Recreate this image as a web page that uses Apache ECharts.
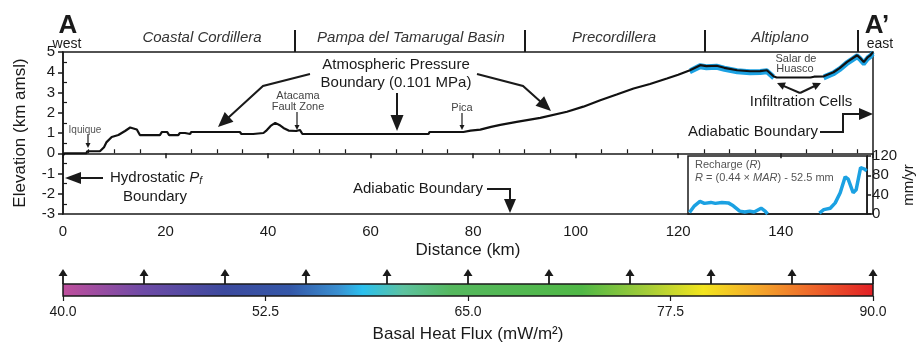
<!DOCTYPE html>
<html><head><meta charset="utf-8">
<script src="https://cdn.jsdelivr.net/npm/echarts@6/dist/echarts.min.js"></script>
<style>html,body{margin:0;padding:0;background:#fff}#c{width:917px;height:345px}</style>
</head><body><div id="c"></div>
<script>
// ---------- DATA ----------
var topoKm = [0,0.3,4.6,4.7,7.2,8.0,8.5,9.5,10.8,12.1,13.1,14.4,15.0,18.9,19.3,20.3,20.7,22.5,22.8,23.8,24.1,24.8,25.0,34.5,34.8,37.1,37.4,39.1,39.6,40.5,41.4,42.2,43.0,44.0,45.5,46.2,46.7,71.3,71.5,78.1,79.5,81.4,83.5,85.3,88.5,93.1,98.3,101.5,104.8,108,111.3,114.5,117.8,120,122.3,124.3,125.5,127.5,129,131.5,134,136,137.3,138.6,139.2,145.8,146.5,148.4,150.3,151.5,152.9,154.9,155.5,156.2,157.0,157.5,158];
var topoElev = [-0.1,0,0,0.1,0.1,0.3,0.55,0.8,0.9,1.1,1.27,1.17,0.9,0.9,1.05,1.05,0.9,0.9,1.0,1.0,0.95,0.95,1.05,1.05,0.95,0.95,1.0,1.0,1.1,1.35,1.5,1.4,1.25,1.12,1.1,1.15,0.95,0.95,1.05,1.05,1.12,1.17,1.3,1.4,1.55,1.75,2.05,2.3,2.62,2.9,3.2,3.42,3.69,3.88,4.1,4.35,4.3,4.32,4.22,4.1,4.05,4.06,4.1,3.8,3.74,3.74,3.78,3.8,4.0,4.2,4.5,4.84,4.7,4.5,4.75,4.84,5.0];
var infiltrationZones = [[121,138.8],[147,158]];

var rechargeKm1 = [122.3,123.3,124.4,125.3,126.6,127.5,128.8,130.1,131.1,132.4,133.4,134.4,135.3,136.7,137.5,138];
var rechargeVal1 = [3,17,26,22,24,22,24,23,17,6,4,6,4,12,6,0];
var rechargeKm2 = [148.4,149.3,150.6,151.6,152.6,153.6,154.2,155.2,155.8,156.7,157.5,157.9];
var rechargeVal2 = [2,9,12,23,44,77,72,44,50,96,93,89];

var heatFluxRange = [40, 90];
var heatFluxArrows = [40,45,50,55,60,65,70,75,80,85,90];

var regionNames = ['Coastal Cordillera','Pampa del Tamarugal Basin','Precordillera','Altiplano'];

// ---------- STYLE ----------
var FONT = '"Liberation Sans", Arial, Helvetica, sans-serif';
var INK = '#1a1a1a';
var BLUE = '#1ba1e2';
var gradStops = [
  {offset:0, color:'#c04f9d'},{offset:0.1, color:'#6e4ba6'},{offset:0.2, color:'#3c4a9e'},
  {offset:0.28, color:'#3457a8'},{offset:0.34, color:'#3a8fd0'},{offset:0.37, color:'#2bc0ee'},
  {offset:0.42, color:'#5dc2a0'},{offset:0.48, color:'#55b85e'},{offset:0.64, color:'#50b846'},
  {offset:0.72, color:'#a3cc38'},{offset:0.79, color:'#f3e51e'},{offset:0.86, color:'#f4a52a'},
  {offset:0.92, color:'#ee6a2a'},{offset:1, color:'#e21f26'}
];

function pairs(a,b){ return a.map(function(v,i){ return [v,b[i]]; }); }
var topoData = pairs(topoKm, topoElev);
var blueSeries = infiltrationZones.map(function(z){
  return {type:'line', xAxisIndex:0, yAxisIndex:0, symbol:'none', silent:true, z:2,
    data: topoData.filter(function(p){ return p[0]>=z[0] && p[0]<=z[1]; }),
    lineStyle:{color:BLUE, width:4, shadowColor:BLUE, shadowBlur:0, shadowOffsetY:2}};
});

function txt(x,y,s,o){
  var st = {text:s, fill:INK, font:'15px '+FONT, align:'center', verticalAlign:'middle', textAlign:'center', textVerticalAlign:'middle'};
  for (var k in (o||{})) st[k]=o[k];
  return {type:'text', x:x, y:y, z:100, style:st};
}
function arrow(pts, hl, hw, lw){
  var n=pts.length, a=pts[n-2], b=pts[n-1];
  var dx=b[0]-a[0], dy=b[1]-a[1], L=Math.sqrt(dx*dx+dy*dy), ux=dx/L, uy=dy/L;
  var bx=b[0]-ux*hl*0.8, by=b[1]-uy*hl*0.8;
  var hx=b[0]-ux*hl, hy=b[1]-uy*hl;
  var line = pts.slice(0,n-1).concat([[bx,by]]);
  return [
    {type:'polyline', z:100, shape:{points:line}, style:{stroke:INK, lineWidth:lw||2, fill:null}},
    {type:'polygon', z:100, shape:{points:[[b[0],b[1]],[hx-uy*hw/2, hy+ux*hw/2],[hx+uy*hw/2, hy-ux*hw/2]]}, style:{fill:INK}}
  ];
}
function line(pts, lw){ return {type:'polyline', z:100, shape:{points:pts}, style:{stroke:INK, lineWidth:lw||2, fill:null}}; }

var small = {font:'11px '+FONT, fill:'#444'};
var graphics = [
  txt(68,26,'A',{font:'bold 26px '+FONT}),
  txt(67,44,'west',{font:'14px '+FONT}),
  txt(877,26,'A’',{font:'bold 26px '+FONT}),
  txt(880,44,'east',{font:'14px '+FONT}),
  txt(202,38,regionNames[0],{font:'italic 15px '+FONT, fill:'#333'}),
  txt(411,38,regionNames[1],{font:'italic 15px '+FONT, fill:'#333'}),
  txt(614,38,regionNames[2],{font:'italic 15px '+FONT, fill:'#333'}),
  txt(780,38,regionNames[3],{font:'italic 15px '+FONT, fill:'#333'}),
  line([[295,30],[295,52]]), line([[525,30],[525,52]]), line([[705,30],[705,52]]), line([[858,30],[858,52]]),
  txt(85,130,'Iquique',{font:'10px '+FONT, fill:'#555'}),
  txt(298,96,'Atacama',small), txt(298,107,'Fault Zone',small),
  txt(462,108,'Pica',small),
  txt(796,59,'Salar de',small), txt(795,69,'Huasco',small),
  txt(396,65,'Atmospheric Pressure'), txt(396,83,'Boundary (0.101 MPa)'),
  txt(801,102,'Infiltration Cells'),
  txt(818,132,'Adiabatic Boundary',{align:'right',textAlign:'right'}),
  txt(418,189,'Adiabatic Boundary'),
  {type:'text', x:110, y:178, z:100, style:{text:'Hydrostatic {i|P}{s|f}', fill:INK, fontSize:15, fontFamily:FONT, align:'left', verticalAlign:'middle', textAlign:'left', textVerticalAlign:'middle',
     rich:{i:{fontStyle:'italic', fontSize:15, fontFamily:FONT, fill:INK}, s:{fontStyle:'italic', fontSize:10, fontFamily:FONT, fill:INK, padding:[7,0,0,0]}}}},
  txt(155,197,'Boundary'),
  {type:'text', x:695, y:165, z:100, style:{text:'Recharge ({i|R})', fill:'#555', fontSize:11, fontFamily:FONT, align:'left', verticalAlign:'middle', textAlign:'left', textVerticalAlign:'middle', rich:{i:{fontStyle:'italic', fontSize:11, fontFamily:FONT, fill:'#555'}}}},
  {type:'text', x:695, y:178, z:100, style:{text:'{i|R} = (0.44 × {i|MAR}) - 52.5 mm', fill:'#555', fontSize:11, fontFamily:FONT, align:'left', verticalAlign:'middle', textAlign:'left', textVerticalAlign:'middle', rich:{i:{fontStyle:'italic', fontSize:11, fontFamily:FONT, fill:'#555'}}}}
];
graphics = graphics
  .concat(arrow([[88,134],[88,148]],5,5,1.2))
  .concat(arrow([[297,112],[297,130]],5,5,1.2))
  .concat(arrow([[462,113],[462,130]],5,5,1.2))
  .concat(arrow([[310,74],[263,86],[218,127]],15,13,2))
  .concat(arrow([[397,93],[397,131]],16,13,2))
  .concat(arrow([[477,74],[523,86],[551,111]],15,13,2))
  .concat(arrow([[800,93],[777,83]],8,8,2))
  .concat(arrow([[800,93],[821,83]],8,8,2))
  .concat(arrow([[820,132],[843,132],[843,114],[873,114]],14,12,2))
  .concat(arrow([[487,189],[510,189],[510,213]],14,12,2))
  .concat(arrow([[103,178],[65,178]],16,12,2));

var option = {
  animation:false,
  textStyle:{fontFamily:FONT},
  grid:[
    {left:63, top:52, width:810, height:162, show:true, borderColor:INK, borderWidth:1.5},
    {left:688, top:156, width:185, height:58, show:true, borderColor:INK, borderWidth:1.5},
    {left:63, top:284, width:810, height:12}
  ],
  xAxis:[
    {gridIndex:0, type:'value', min:0, max:158, interval:20,
     name:'Distance (km)', nameLocation:'middle', nameGap:28, nameTextStyle:{fontSize:17, color:INK},
     axisLine:{lineStyle:{color:INK, width:1.5}},
     axisTick:{length:5, lineStyle:{color:INK, width:1.5}},
     minorTick:{show:true, splitNumber:4, length:-4, lineStyle:{color:INK, width:1.2}},
     axisLabel:{fontSize:15, color:INK, margin:10, showMaxLabel:false, formatter:function(v){return v%20===0? String(v):'';}},
     splitLine:{show:false}},
    {gridIndex:1, type:'value', min:122, max:158, show:false},
    {gridIndex:2, type:'value', min:heatFluxRange[0], max:heatFluxRange[1], interval:12.5,
     name:'Basal Heat Flux (mW/m²)', nameLocation:'middle', nameGap:30, nameTextStyle:{fontSize:17, color:INK},
     axisLine:{show:false},
     axisTick:{length:5, lineStyle:{color:INK, width:1.2}},
     axisLabel:{fontSize:14, color:INK, margin:9, formatter:function(v){return v.toFixed(1);}},
     splitLine:{show:false}}
  ],
  yAxis:[
    {gridIndex:0, type:'value', min:-3, max:5, interval:1,
     name:'Elevation (km amsl)', nameLocation:'middle', nameGap:34, nameTextStyle:{fontSize:17, color:INK},
     axisLine:{show:true, lineStyle:{color:INK, width:1.5}},
     axisTick:{show:true, length:5, lineStyle:{color:INK, width:1.5}},
     minorTick:{show:true, splitNumber:2, length:-4, lineStyle:{color:INK, width:1.2}},
     axisLabel:{fontSize:15, color:INK, margin:8},
     splitLine:{show:false}},
    {gridIndex:1, type:'value', position:'right', min:0, max:120, interval:40,
     name:'mm/yr', nameLocation:'middle', nameGap:31, nameRotate:90, nameTextStyle:{fontSize:15, color:INK},
     axisLine:{show:true, lineStyle:{color:INK, width:1.5}},
     axisTick:{show:true, length:4, lineStyle:{color:INK, width:1.5}},
     axisLabel:{fontSize:15, color:INK, margin:5},
     splitLine:{show:false}},
    {gridIndex:2, type:'value', min:0, max:1, show:false}
  ],
  graphic:{elements:graphics},
  series: blueSeries.concat([
    {type:'line', xAxisIndex:0, yAxisIndex:0, symbol:'none', z:3, silent:true, data:topoData,
     lineStyle:{color:'#111', width:2.2}},
    {type:'line', xAxisIndex:1, yAxisIndex:1, symbol:'none', z:3, silent:true, data:pairs(rechargeKm1, rechargeVal1),
     lineStyle:{color:BLUE, width:3.5}},
    {type:'line', xAxisIndex:1, yAxisIndex:1, symbol:'none', z:3, silent:true, data:pairs(rechargeKm2, rechargeVal2),
     lineStyle:{color:BLUE, width:3.5}},
    {type:'custom', xAxisIndex:2, yAxisIndex:2, silent:true, z:3, data:[heatFluxRange],
     encode:{x:[0,1]},
     renderItem:function(params, api){
       var p0 = api.coord([api.value(0), 0]);
       var p1 = api.coord([api.value(1), 1]);
       return {type:'rect', shape:{x:p0[0], y:p1[1], width:p1[0]-p0[0], height:p0[1]-p1[1]},
         style:{fill:new echarts.graphic.LinearGradient(0,0,1,0,gradStops), stroke:INK, lineWidth:1.5}};
     }},
    {type:'custom', xAxisIndex:2, yAxisIndex:2, silent:true, z:4, data:heatFluxArrows.map(function(v){return [v];}),
     encode:{x:0},
     renderItem:function(params, api){
       var p = api.coord([api.value(0), 1]);
       return {type:'group', children:[
         {type:'line', shape:{x1:p[0], y1:p[1], x2:p[0], y2:p[1]-9}, style:{stroke:INK, lineWidth:1.8}},
         {type:'polygon', shape:{points:[[p[0],p[1]-15],[p[0]-4.5,p[1]-8],[p[0]+4.5,p[1]-8]]}, style:{fill:INK}}
       ]};
     }}
  ])
};
var chart = echarts.init(document.getElementById('c'), null, {renderer:'canvas'});
chart.setOption(option);
</script>
</body></html>
